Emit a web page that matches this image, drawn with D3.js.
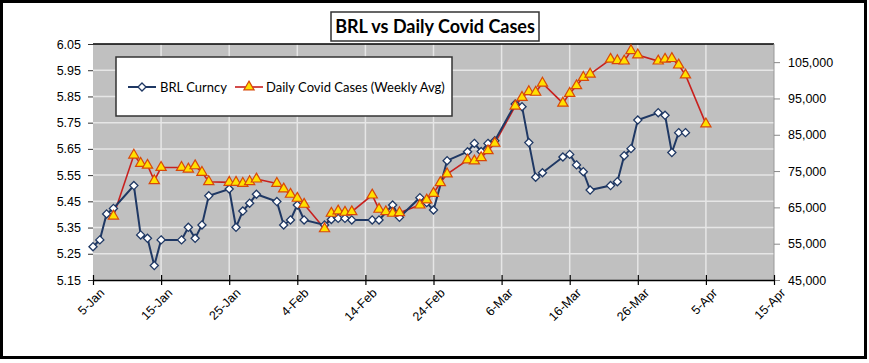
<!DOCTYPE html>
<html>
<head>
<meta charset="utf-8">
<script src="https://cdn.jsdelivr.net/npm/d3@7"></script>
<style>
  body { margin: 0; background: #fff; }
  svg { display: block; font-family: Lato, "Noto Sans", sans-serif; }
</style>
</head>
<body>
<svg id="chart" width="869" height="363"></svg>
<script>
// BRL exchange rate (left axis)
const brlDates = ["2021-01-05","2021-01-06","2021-01-07","2021-01-08","2021-01-11","2021-01-12","2021-01-13","2021-01-14","2021-01-15",
  "2021-01-18","2021-01-19","2021-01-20","2021-01-21","2021-01-22","2021-01-25","2021-01-26","2021-01-27","2021-01-28","2021-01-29",
  "2021-02-01","2021-02-02","2021-02-03","2021-02-04","2021-02-05","2021-02-08","2021-02-09","2021-02-10","2021-02-11","2021-02-12",
  "2021-02-15","2021-02-16","2021-02-18","2021-02-19","2021-02-22","2021-02-23","2021-02-24","2021-02-26",
  "2021-03-01","2021-03-02","2021-03-03","2021-03-04","2021-03-05","2021-03-08","2021-03-09","2021-03-10","2021-03-11","2021-03-12",
  "2021-03-15","2021-03-16","2021-03-17","2021-03-18","2021-03-19","2021-03-22","2021-03-23","2021-03-24","2021-03-25","2021-03-26",
  "2021-03-29","2021-03-30","2021-03-31","2021-04-01","2021-04-02"];
const brlValues = [5.277,5.303,5.402,5.423,5.510,5.322,5.309,5.205,5.303,
  5.303,5.351,5.309,5.360,5.471,5.497,5.351,5.413,5.443,5.477,
  5.449,5.360,5.379,5.436,5.379,5.360,5.381,5.385,5.385,5.379,
  5.379,5.379,5.436,5.389,5.464,5.445,5.417,5.605,
  5.639,5.671,5.640,5.671,5.681,5.821,5.811,5.674,5.542,5.559,
  5.619,5.629,5.589,5.563,5.493,5.510,5.525,5.624,5.651,5.760,
  5.788,5.778,5.636,5.712,5.712];

// Daily covid cases, weekly average (right axis)
const covidDates = ["2021-01-08","2021-01-11","2021-01-12","2021-01-13","2021-01-14","2021-01-15",
  "2021-01-18","2021-01-19","2021-01-20","2021-01-21","2021-01-22","2021-01-25","2021-01-26","2021-01-27","2021-01-28","2021-01-29",
  "2021-02-01","2021-02-02","2021-02-03","2021-02-04","2021-02-05","2021-02-08","2021-02-09","2021-02-10","2021-02-11","2021-02-12",
  "2021-02-15","2021-02-16","2021-02-17","2021-02-18","2021-02-19","2021-02-22","2021-02-23","2021-02-24","2021-02-25","2021-02-26",
  "2021-03-01","2021-03-02","2021-03-03","2021-03-04","2021-03-05","2021-03-08","2021-03-09","2021-03-10","2021-03-11","2021-03-12",
  "2021-03-15","2021-03-16","2021-03-17","2021-03-18","2021-03-19","2021-03-22","2021-03-23","2021-03-24","2021-03-25","2021-03-26",
  "2021-03-29","2021-03-30","2021-03-31","2021-04-01","2021-04-02","2021-04-05"];
const covidValues = [62600,79400,77100,76600,72350,76000,
  76000,75550,76450,74650,72070,71900,71900,71600,72070,72800,
  71600,70060,68600,67500,65850,59100,63370,64000,63650,63800,
  68400,64470,63800,63370,63530,65650,67030,68870,71800,74200,
  78050,77770,78700,80600,82650,92900,95300,96860,96700,99200,
  93700,96400,98500,100800,101700,105800,105400,105300,108150,107000,
  105300,105800,106000,104200,101460,88000];

const leftTicks = [5.15,5.25,5.35,5.45,5.55,5.65,5.75,5.85,5.95,6.05];
const rightTicks = [45000,55000,65000,75000,85000,95000,105000];
const xTickLabels = ["5-Jan","15-Jan","25-Jan","4-Feb","14-Feb","24-Feb","6-Mar","16-Mar","26-Mar","5-Apr","15-Apr"];

const parse = d3.timeParse("%Y-%m-%d");
const brl = brlDates.map((d, i) => ({ date: parse(d), v: brlValues[i] }));
const covid = covidDates.map((d, i) => ({ date: parse(d), v: covidValues[i] }));

const svg = d3.select("#chart");
const plotL = 93, plotR = 774, plotT = 44, plotB = 280;

const start = parse("2021-01-05");
const xTicks = xTickLabels.map((_, i) => d3.timeDay.offset(start, i * 10));
const x = d3.scaleTime().domain([start, xTicks[xTicks.length - 1]]).range([plotL, plotR]);
const yL = d3.scaleLinear().domain([5.15, 6.05]).range([plotB, plotT]);
const yR = d3.scaleLinear().domain([45000, 110000]).range([plotB, plotT]);

// outer frame
svg.append("rect").attr("x", 1.5).attr("y", 1.5).attr("width", 864).attr("height", 356)
  .attr("fill", "#fff").attr("stroke", "#000").attr("stroke-width", 3);

// plot background
svg.append("rect").attr("x", plotL).attr("y", plotT).attr("width", plotR - plotL).attr("height", plotB - plotT)
  .attr("fill", "#c0c0c0");

// grid
const grid = svg.append("g").attr("stroke", "#e6e6e6").attr("stroke-width", 1.5);
grid.selectAll(".gx").data(xTicks.slice(1, -1)).enter().append("line")
  .attr("x1", d => x(d)).attr("x2", d => x(d)).attr("y1", plotT).attr("y2", plotB);
grid.selectAll(".gy").data(leftTicks.slice(1, -1)).enter().append("line")
  .attr("x1", plotL).attr("x2", plotR).attr("y1", d => yL(d)).attr("y2", d => yL(d));

// plot top border and right edge
svg.append("line").attr("x1", plotL).attr("x2", plotR).attr("y1", plotT).attr("y2", plotT)
  .attr("stroke", "#000").attr("stroke-width", 1.5);
svg.append("line").attr("x1", plotR).attr("x2", plotR).attr("y1", plotT).attr("y2", plotB)
  .attr("stroke", "#999").attr("stroke-width", 1);

// left axis
const gL = svg.append("g").attr("transform", `translate(${plotL},0)`)
  .call(d3.axisLeft(yL).tickValues(leftTicks).tickFormat(d3.format(".2f")).tickSize(5).tickPadding(7));
gL.select(".domain").remove();
gL.selectAll(".tick line").attr("stroke", "#333");
gL.selectAll("text").attr("font-size", 12.5).attr("fill", "#000");

// right axis
const gR = svg.append("g").attr("transform", `translate(${plotR},0)`)
  .call(d3.axisRight(yR).tickValues(rightTicks).tickFormat(d3.format(",")).tickSize(6).tickPadding(8));
gR.select(".domain").remove();
gR.selectAll(".tick line").attr("stroke", "#888");
gR.selectAll("text").attr("font-size", 12.5).attr("fill", "#000");

// bottom axis
const gB = svg.append("g").attr("transform", `translate(0,${plotB})`)
  .call(d3.axisBottom(x).tickValues(xTicks).tickFormat((d, i) => xTickLabels[i]).tickSizeInner(5).tickSizeOuter(0));
gB.select(".domain").attr("stroke", "#000").attr("stroke-width", 1.5);
gB.selectAll(".tick line").attr("stroke", "#000").attr("y1", -5).attr("stroke-width", 1.2);
gB.selectAll("text")
  .attr("font-size", 12.5).attr("fill", "#000")
  .attr("text-anchor", "end").attr("dy", 0)
  .attr("transform", "translate(6,8) rotate(-45)");

// series lines
const lineL = d3.line().x(d => x(d.date)).y(d => yL(d.v));
const lineR = d3.line().x(d => x(d.date)).y(d => yR(d.v));

svg.append("path").datum(covid).attr("d", lineR)
  .attr("fill", "none").attr("stroke", "#c8201e").attr("stroke-width", 1.6);
svg.append("path").datum(brl).attr("d", lineL)
  .attr("fill", "none").attr("stroke", "#1f3864").attr("stroke-width", 2);

const diamond = d3.symbol().type(d3.symbolDiamond2).size(42);
const triangle = d3.symbol().type(d3.symbolTriangle2).size(75);

svg.append("g").selectAll("path").data(brl).enter().append("path")
  .attr("d", diamond)
  .attr("transform", d => `translate(${x(d.date)},${yL(d.v)})`)
  .attr("fill", "#fff").attr("stroke", "#1f3864").attr("stroke-width", 1.3);

svg.append("g").selectAll("path").data(covid).enter().append("path")
  .attr("d", triangle)
  .attr("transform", d => `translate(${x(d.date)},${yR(d.v)})`)
  .attr("fill", "#ffe000").attr("stroke", "#d8480a").attr("stroke-width", 1.2);

// legend
const lg = svg.append("g");
lg.append("rect").attr("x", 116).attr("y", 57).attr("width", 336).attr("height", 59)
  .attr("fill", "#fff").attr("stroke", "#333").attr("stroke-width", 1.5);
lg.append("line").attr("x1", 128).attr("x2", 156).attr("y1", 87).attr("y2", 87)
  .attr("stroke", "#1f3864").attr("stroke-width", 2);
lg.append("path").attr("d", diamond).attr("transform", "translate(142,87)")
  .attr("fill", "#fff").attr("stroke", "#1f3864").attr("stroke-width", 1.3);
lg.append("text").attr("x", 160).attr("y", 91.5).attr("font-size", 13).text("BRL Curncy");
lg.append("line").attr("x1", 235).attr("x2", 263).attr("y1", 87).attr("y2", 87)
  .attr("stroke", "#c8201e").attr("stroke-width", 1.6);
lg.append("path").attr("d", triangle).attr("transform", "translate(249,87)")
  .attr("fill", "#ffe000").attr("stroke", "#d8480a").attr("stroke-width", 1.2);
lg.append("text").attr("x", 266).attr("y", 91.5).attr("font-size", 13).text("Daily Covid Cases (Weekly Avg)");

// title
const tg = svg.append("g");
tg.append("rect").attr("x", 331).attr("y", 12).attr("width", 208).attr("height", 29)
  .attr("fill", "#fff").attr("stroke", "#333").attr("stroke-width", 1.5);
tg.append("text").attr("x", 435).attr("y", 33).attr("text-anchor", "middle")
  .attr("font-size", 18).attr("font-weight", "bold").text("BRL vs Daily Covid Cases");
</script>
</body>
</html>
